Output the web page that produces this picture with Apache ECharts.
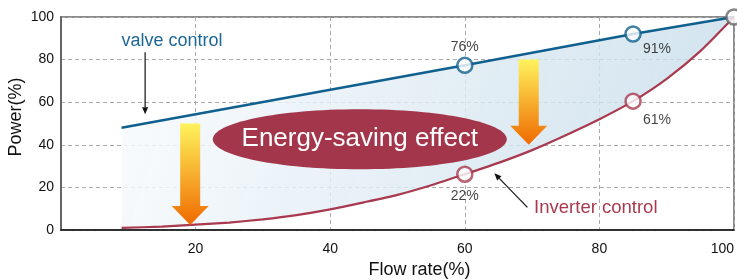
<!DOCTYPE html>
<html>
<head>
<meta charset="utf-8">
<script src="https://cdn.jsdelivr.net/npm/echarts@6/dist/echarts.min.js"></script>
<style>
  html, body { margin: 0; padding: 0; background: #fff; }
  #chart { width: 737px; height: 280px; }
</style>
</head>
<body>
<div id="chart"></div>
<script>
// readings
var valveX = [9, 60, 85, 100];
var valveY = [48, 77.3, 92, 100];
var invX = [9, 15, 20, 25, 30, 35, 40, 45, 50, 55, 60, 65, 70, 75, 80, 85, 90, 95, 100];
var invY = [1, 1.6, 2.5, 3.5, 5, 7, 9.7, 13, 16.5, 21, 26.2, 31.5, 37.5, 44.5, 52, 60.5, 71, 84, 100];
var valveMarkX = [60, 85];
var valveMarkY = [77.3, 92];
var valveMarkText = ["76%", "91%"];
var invMarkX = [60, 85];
var invMarkY = [26.2, 60.5];
var invMarkText = ["22%", "61%"];
var xTicks = [20, 40, 60, 80, 100];
var yTicks = [0, 20, 40, 60, 80, 100];

var blue = "#10608f";
var red = "#a9394f";
var font = "Liberation Sans, Arial, sans-serif";

var chart = echarts.init(document.getElementById("chart"));

// fill between the two curves
function renderBand(params, api) {
  var pts = [];
  for (var i = 0; i < valveX.length; i++) pts.push(api.coord([valveX[i], valveY[i]]));
  for (var j = invX.length - 1; j >= 0; j--) pts.push(api.coord([invX[j], invY[j]]));
  return {
    type: "polygon",
    shape: { points: pts },
    style: {
      fill: new echarts.graphic.LinearGradient(0, 0, 1, 1, [
        { offset: 0, color: "rgba(250,252,254,0.85)" },
        { offset: 1, color: "rgba(196,219,233,0.8)" }
      ])
    }
  };
}

function marks(xs, ys, texts, offsets) {
  return xs.map(function (x, i) {
    return {
      value: [x, ys[i]],
      label: { show: true, formatter: texts[i], position: "inside", offset: offsets[i] }
    };
  });
}

var gridLine = { show: true, lineStyle: { color: "#aaa", type: [4, 3], width: 1 } };
var markLabel = { color: "#111", fontSize: 14, fontFamily: font, textBorderWidth: 0 };

chart.setOption({
  animation: false,
  grid: {
    left: 61, right: 3, top: 17, bottom: 50,
    outerBoundsMode: "none", containLabel: false,
    show: true, borderColor: "#666", borderWidth: 1.5
  },
  xAxis: {
    type: "value",
    min: 0,
    max: 100,
    interval: 20,
    name: "Flow rate(%)",
    nameLocation: "middle",
    nameGap: 28,
    nameTextStyle: { fontSize: 18, color: "#111", fontFamily: font, padding: [0, 0, 0, 44] },
    axisLine: { show: true, onZero: false, lineStyle: { color: "#111", width: 1.5 } },
    axisTick: { show: false },
    axisLabel: {
      fontSize: 14, color: "#111", fontFamily: font, margin: 12,
      alignMaxLabel: "right",
      formatter: function (v) { return xTicks.indexOf(v) >= 0 ? String(v) : ""; }
    },
    splitLine: gridLine
  },
  yAxis: {
    type: "value",
    min: 0,
    max: 100,
    interval: 20,
    axisLine: { show: true, onZero: false, lineStyle: { color: "#666", width: 2 } },
    axisTick: { show: false },
    axisLabel: {
      fontSize: 14, color: "#111", fontFamily: font, margin: 7,
      formatter: function (v) { return yTicks.indexOf(v) >= 0 ? String(v) : ""; }
    },
    splitLine: gridLine
  },
  series: [
    {
      type: "custom",
      renderItem: renderBand,
      data: [0],
      z: 1,
      silent: true
    },
    {
      name: "valve control",
      type: "line",
      data: valveX.map(function (x, i) { return [x, valveY[i]]; }),
      symbol: "none",
      lineStyle: { color: blue, width: 2.5 },
      z: 3
    },
    {
      name: "Inverter control",
      type: "line",
      data: invX.map(function (x, i) { return [x, invY[i]]; }),
      symbol: "none",
      smooth: 0.2,
      lineStyle: { color: red, width: 2.2 },
      z: 3
    },
    {
      type: "scatter",
      data: marks(valveMarkX, valveMarkY, valveMarkText, [[0, -18], [24, 15]]),
      symbolSize: 15,
      itemStyle: { color: "#fff", borderColor: blue, borderWidth: 2.5 },
      label: markLabel,
      z: 5
    },
    {
      type: "scatter",
      data: marks(invMarkX, invMarkY, invMarkText, [[0, 22], [24, 19]]),
      symbolSize: 15,
      itemStyle: { color: "#fff", borderColor: red, borderWidth: 2.5 },
      label: markLabel,
      z: 5
    },
    {
      type: "scatter",
      data: [[valveX[valveX.length - 1], valveY[valveY.length - 1]]],
      symbolSize: 15,
      itemStyle: { color: "#fff", borderColor: "#666", borderWidth: 2.5 },
      z: 6
    }
  ]
});

// annotations placed in data coordinates
function px(x, y) { return chart.convertToPixel({ gridIndex: 0 }, [x, y]); }

function bigArrow(x, yTop, yTip) {
  var a = px(x, yTop), b = px(x, yTip);
  var cx = a[0], top = a[1], tip = b[1];
  var headTop = tip - 19;
  return {
    type: "polygon",
    shape: {
      points: [
        [cx - 10, top], [cx + 10, top], [cx + 10, headTop], [cx + 18.5, headTop],
        [cx, tip], [cx - 18.5, headTop], [cx - 10, headTop]
      ]
    },
    style: {
      fill: new echarts.graphic.LinearGradient(0, 0, 0, 1, [
        { offset: 0, color: "#fff35c" },
        { offset: 1, color: "#ef6a00" }
      ])
    },
    z: 10
  };
}

function pointer(x1, y1, x2, y2) {
  var p1 = px(x1, y1), p2 = px(x2, y2);
  var ang = Math.atan2(p2[1] - p1[1], p2[0] - p1[0]);
  var L = 7, W = 3;
  var bx = p2[0] - L * Math.cos(ang), by = p2[1] - L * Math.sin(ang);
  var nx = -Math.sin(ang) * W, ny = Math.cos(ang) * W;
  return [
    { type: "line", shape: { x1: p1[0], y1: p1[1], x2: bx, y2: by }, style: { stroke: "#111", lineWidth: 1.2 }, z: 10 },
    { type: "polygon", shape: { points: [[p2[0], p2[1]], [bx + nx, by + ny], [bx - nx, by - ny]] }, style: { fill: "#111" }, z: 10 }
  ];
}

var ell = px(44.4, 42.6);
var valveTxt = px(16.5, 88.5);
var invTxt = px(70.3, 10.3);
var yTitle = px(0, 53);

chart.setOption({
  graphic: [
    bigArrow(19.2, 50, 2.3),
    bigArrow(69.5, 80, 40),
    {
      type: "ellipse",
      shape: { cx: ell[0], cy: ell[1], rx: 147, ry: 30 },
      style: { fill: "#a4364b" },
      z: 11
    },
    {
      type: "text",
      x: ell[0], y: ell[1],
      style: {
        text: "Energy-saving effect", fill: "#fff", fontSize: 26, fontFamily: font,
        align: "center", verticalAlign: "middle"
      },
      z: 12
    },
    {
      type: "text",
      x: valveTxt[0], y: valveTxt[1],
      style: { text: "valve control", fill: "#1d6797", fontSize: 18, fontFamily: font, align: "center", verticalAlign: "middle" },
      z: 12
    },
    {
      type: "text",
      x: invTxt[0], y: invTxt[1],
      style: { text: "Inverter control", fill: red, fontSize: 18.5, fontFamily: font, align: "left", verticalAlign: "middle" },
      z: 12
    },
    {
      type: "text",
      x: 16, y: yTitle[1],
      rotation: Math.PI / 2,
      style: { text: "Power(%)", fill: "#111", fontSize: 18, fontFamily: font, align: "center", verticalAlign: "middle" },
      z: 12
    }
  ]
    .concat(pointer(12.5, 83.5, 12.5, 54.3))
    .concat(pointer(69.3, 10.6, 64.4, 26.6))
});
</script>
</body>
</html>
